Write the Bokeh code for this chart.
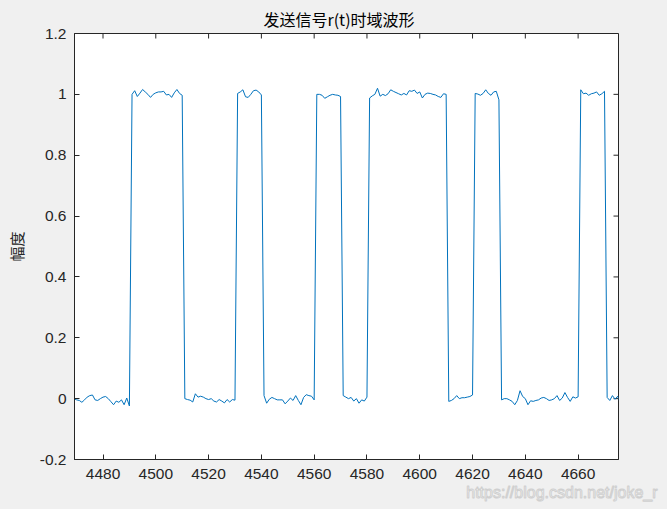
import math
from bokeh.plotting import figure
from bokeh.models import Range1d, FixedTicker, CustomJSTickFormatter, Title
from bokeh.embed import file_html
from bokeh.resources import INLINE

# ---- data ----
t_start = 4469
amplitude = [
    # 4469-4490
    0.0, -0.004, -0.006, -0.012, -0.004, 0.005, 0.01, 0.012, -0.004, -0.006, 0.0,
    0.005, 0.007, 0.0, -0.01, -0.02, -0.008, -0.012, -0.004, -0.02, 0.002, -0.024,
    # 4491-4510
    1.0, 1.012, 0.993, 1.004, 1.016, 1.008, 1.0, 0.99, 1.0, 1.005,
    1.008, 1.008, 1.01, 0.998, 1.0, 0.99, 1.005, 1.016, 1.003, 0.997,
    # 4511-4530
    0.0, -0.003, -0.005, -0.011, 0.016, 0.005, 0.008, 0.005, 0.0, -0.003,
    0.0, -0.008, -0.011, -0.003, -0.008, -0.014, -0.003, -0.011, -0.003, -0.005,
    # 4531-4540
    1.003, 1.008, 1.015, 0.992, 0.99, 1.0, 1.012, 1.014, 1.008, 0.998,
    # 4541-4560
    0.01, -0.015, -0.002, 0.004, 0.0, -0.004, -0.004, -0.004, -0.017, -0.008,
    0.002, -0.006, 0.01, -0.006, -0.02, 0.004, 0.013, 0.01, 0.008, -0.004,
    # 4561-4570
    1.0, 1.0, 0.997, 0.987, 0.992, 0.997, 1.0, 0.998, 0.997, 0.993,
    # 4571-4580
    0.01, 0.005, 0.0, 0.004, -0.008, 0.0, -0.015, -0.004, -0.008, 0.005,
    # 4581-4610
    0.988, 0.995, 1.0, 1.02, 0.994, 1.0, 0.996, 1.002, 1.015, 1.01,
    1.006, 1.002, 0.998, 1.003, 0.998, 1.012, 1.01, 1.014, 1.003, 1.008,
    0.988, 1.0, 1.004, 1.003, 1.0, 0.998, 0.993, 0.99, 1.002, 1.0,
    # 4611-4620
    -0.009, -0.006, 0.0, 0.01, 0.0, 0.003, 0.003, 0.005, 0.007, 0.012,
    # 4621-4630
    1.003, 1.001, 0.997, 1.003, 1.015, 1.003, 0.997, 1.008, 1.01, 0.982,
    # 4631-4660
    -0.004, 0.0, 0.0, -0.004, -0.009, -0.02, -0.006, 0.026, 0.007, 0.0,
    -0.02, -0.007, -0.009, -0.006, -0.004, 0.002, 0.004, 0.0, -0.006, -0.004,
    0.0, 0.01, -0.006, 0.002, 0.02, 0.004, -0.009, 0.006, 0.002, 0.006,
    # 4661-4670
    1.015, 1.002, 1.004, 0.997, 1.002, 1.004, 1.008, 0.997, 1.002, 1.01,
    # 4671-4676
    0.004, -0.006, 0.01, -0.002, 0.008, -0.015,
]
sample_index = list(range(t_start, t_start + len(amplitude)))

x_ticks = [4480, 4500, 4520, 4540, 4560, 4580, 4600, 4620, 4640, 4660]
y_ticks = [-0.2, 0, 0.2, 0.4, 0.6, 0.8, 1.0, 1.2]
x_limits = (4469.2, 4675.3)
y_limits = (-0.2, 1.2)

title_text = "发送信号r(t)时域波形"
ylabel_text = "幅度"
watermark = "https://blog.csdn.net/joke_r"

BG = "#f0f0f0"
AX = "#262626"
TICK_FONT = "Liberation Sans"
CJK_FONT = "Noto Sans CJK SC"

p = figure(width=667, height=509, output_backend="svg", toolbar_location=None,
           x_range=Range1d(*x_limits), y_range=Range1d(*y_limits),
           min_border_left=74, min_border_right=49, min_border_top=33, min_border_bottom=50)
p.border_fill_color = BG
p.background_fill_color = "white"
p.outline_line_color = AX
p.xgrid.visible = False
p.ygrid.visible = False

main_title = Title(text=title_text, align="left", offset=189, standoff=6,
                   text_font=CJK_FONT, text_font_size="16px", text_font_style="normal",
                   text_color="#000000")
p.add_layout(main_title, "above")

yfmt = CustomJSTickFormatter(code="return String(Math.round(tick*10)/10)")

for ax in (p.xaxis[0], p.yaxis[0]):
    ax.axis_line_color = AX
    ax.major_tick_line_color = AX
    ax.major_tick_in = 5
    ax.major_tick_out = 0
    ax.minor_tick_line_color = None
    ax.major_label_text_font = TICK_FONT
    ax.major_label_text_color = AX
    ax.major_label_text_font_size = "15.5px"
    ax.major_label_standoff = 8

xa = p.xaxis[0]
xa.ticker = FixedTicker(ticks=x_ticks)
xa.major_label_standoff = 9

ya = p.yaxis[0]
ya.ticker = FixedTicker(ticks=y_ticks)
ya.formatter = yfmt
ya.axis_label = ylabel_text
ya.axis_label_text_font = CJK_FONT
ya.axis_label_text_font_size = "15px"
ya.axis_label_text_font_style = "normal"
ya.axis_label_text_color = AX
ya.axis_label_standoff = 10

# box ticks on the top and right edges (MATLAB "box on")
p.ray(x=x_ticks, y=[y_limits[1]] * len(x_ticks), length=5, length_units="screen",
      angle=-math.pi / 2, line_color=AX, line_width=1)
p.ray(x=[x_limits[1]] * len(y_ticks), y=y_ticks, length=5, length_units="screen",
      angle=math.pi, line_color=AX, line_width=1)

p.line(sample_index, amplitude, line_color="#0072BD", line_width=1)

wm = Title(text=watermark, align="right", offset=-39, standoff=0,
           text_font=TICK_FONT, text_font_size="16px", text_font_style="normal",
           text_color="#ffffff", text_outline_color="#cfcfcf")
p.add_layout(wm, "below")

html = file_html(p, INLINE)
html = html.replace("<body>", '<body style="background:#f0f0f0">')
open("out.html", "w").write(html)
